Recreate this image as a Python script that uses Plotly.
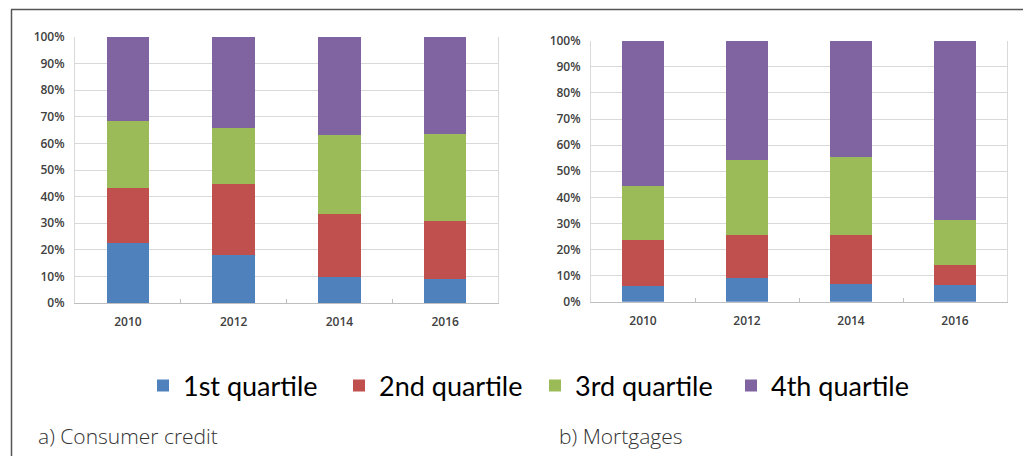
import plotly.graph_objects as go

years = ["2010", "2012", "2014", "2016"]
series_names = ["1st quartile", "2nd quartile", "3rd quartile", "4th quartile"]
colors = ["#4F81BD", "#C0504D", "#9BBB59", "#8064A2"]

# a) Consumer credit (share in %)
consumer_q1 = [22.7, 17.9, 9.9, 8.9]
consumer_q2 = [20.4, 27.0, 23.6, 21.9]
consumer_q3 = [25.5, 20.9, 29.8, 32.9]
consumer_q4 = [31.4, 34.2, 36.7, 36.3]

# b) Mortgages (share in %)
mortgage_q1 = [6.1, 8.9, 6.8, 6.3]
mortgage_q2 = [17.5, 16.6, 18.6, 7.7]
mortgage_q3 = [20.7, 28.7, 30.0, 17.2]
mortgage_q4 = [55.7, 45.8, 44.6, 68.8]

consumer = [consumer_q1, consumer_q2, consumer_q3, consumer_q4]
mortgage = [mortgage_q1, mortgage_q2, mortgage_q3, mortgage_q4]

W, H = 1023, 456
fig = go.Figure()

for i, name in enumerate(series_names):
    fig.add_trace(go.Bar(x=years, y=consumer[i], name=name, marker_color=colors[i],
                         marker_line_width=0, xaxis="x", yaxis="y", legendgroup=name,
                         showlegend=True))
    fig.add_trace(go.Bar(x=years, y=mortgage[i], name=name, marker_color=colors[i],
                         marker_line_width=0, xaxis="x2", yaxis="y2", legendgroup=name,
                         showlegend=False))

tick_font = dict(family="Open Sans, Lato, sans-serif", size=12, color="#404040", weight=600)

def xax(domain, anchor):
    return dict(domain=domain, anchor=anchor, type="category", showgrid=False,
                showline=True, linecolor="#BFBFBF", linewidth=1, mirror=False,
                ticks="inside", tickson="boundaries", ticklen=4, tickcolor="#BFBFBF",
                tickfont=tick_font, ticklabelstandoff=8, fixedrange=True, automargin=False)

def yax(domain, anchor):
    return dict(domain=domain, anchor=anchor, range=[0, 100], dtick=10, ticksuffix="%",
                showgrid=True, gridcolor="#D9D9D9", gridwidth=1,
                showline=True, linecolor="#D9D9D9", mirror=True, zeroline=False,
                ticks="", tickfont=tick_font, ticklabelstandoff=7, fixedrange=True,
                automargin=False)

fig.update_layout(
    width=W, height=H,
    margin=dict(l=0, r=0, t=0, b=0, autoexpand=False),
    paper_bgcolor="white", plot_bgcolor="white",
    barmode="stack", bargap=0.6,
    xaxis=xax([75 / W, 498 / W], "y"),
    yaxis=yax([1 - 303 / H, 1 - 37 / H], "x"),
    xaxis2=xax([591 / W, 1007 / W], "y2"),
    yaxis2=yax([1 - 301.7 / H, 1 - 40.7 / H], "x2"),
    legend=dict(orientation="h", x=143 / W, xanchor="left", y=1 - 386 / H, yanchor="middle",
                font=dict(family="Lato, sans-serif", size=27, color="#000000"),
                entrywidth=151, entrywidthmode="pixels",
                traceorder="normal", itemclick=False, itemdoubleclick=False),
    showlegend=True,
)

# Outer frame lines (top and left)
fig.add_shape(type="line", xref="paper", yref="paper", x0=11 / W, x1=1, y0=1 - 9.5 / H, y1=1 - 9.5 / H,
              line=dict(color="#555555", width=1.5))
fig.add_shape(type="line", xref="paper", yref="paper", x0=11.5 / W, x1=11.5 / W, y0=0, y1=1 - 9.5 / H,
              line=dict(color="#555555", width=1.5))

cap_font = dict(family="Open Sans, sans-serif", size=21, color="#333333", weight=300)
fig.add_annotation(text="a) Consumer credit", xref="paper", yref="paper", x=36 / W, y=1 - 436 / H,
                   xanchor="left", yanchor="middle", showarrow=False, font=cap_font)
fig.add_annotation(text="b) Mortgages", xref="paper", yref="paper", x=557 / W, y=1 - 436 / H,
                   xanchor="left", yanchor="middle", showarrow=False, font=cap_font)

fig.write_html("out.html", config={"displayModeBar": False},
               post_script="document.body.style.margin='0';document.body.style.overflow='hidden';")
